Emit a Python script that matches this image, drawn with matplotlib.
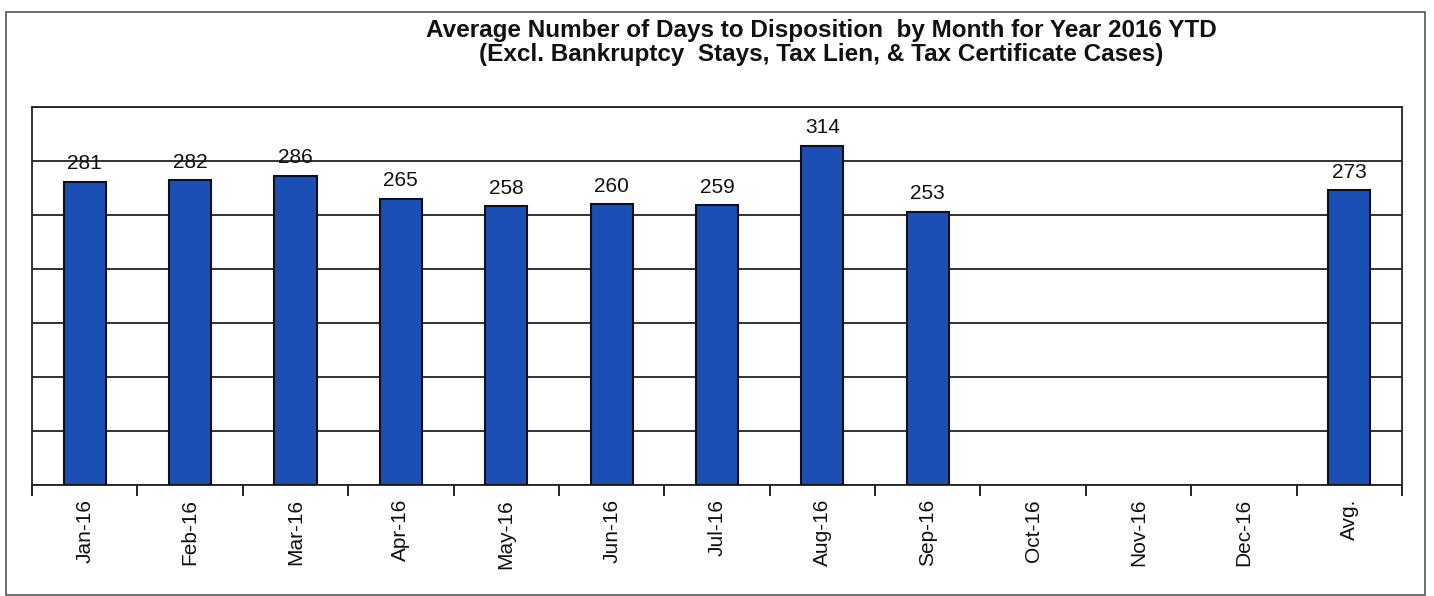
import matplotlib.pyplot as plt
import numpy as np
from matplotlib.patches import Rectangle

# data
months = ["Jan-16", "Feb-16", "Mar-16", "Apr-16", "May-16", "Jun-16", "Jul-16",
          "Aug-16", "Sep-16", "Oct-16", "Nov-16", "Dec-16", "Avg."]
days = [281, 282, 286, 265, 258, 260, 259, 314, 253, None, None, None, 273]

plt.rcParams['font.family'] = ['Liberation Sans', 'DejaVu Sans']

W, H = 1434, 596
fig = plt.figure(figsize=(W / 100, H / 100), dpi=100)

# outer border of the chart object
fig.patches.append(Rectangle((6 / W, 1 / H), 1419 / W, (H - 13) / H, transform=fig.transFigure,
                             fill=False, edgecolor="#555555", linewidth=1.2))

ax = fig.add_axes([32 / W, (H - 485) / H, 1370 / W, (485 - 107) / H])

x = np.arange(len(months))
# only months with a value get a bar
bx = [xi for xi, v in zip(x, days) if v is not None]
bv = [v for v in days if v is not None]
ax.bar(bx, bv, width=0.4, color="#1c4fb6", edgecolor="#111111", linewidth=1.5, zorder=3)

for xi, v in zip(bx, bv):
    ax.text(xi, v + 8, str(v), ha="center", va="bottom", fontsize=15, color="#111111", zorder=4)

ax.set_xlim(-0.5, len(months) - 0.5)
ax.set_ylim(0, 350)
ax.set_yticks(np.arange(0, 351, 50))
ax.set_yticklabels([])
ax.tick_params(axis="y", length=0)
ax.yaxis.grid(True, color="#222222", linewidth=1.3, zorder=0)

ax.set_xticks(x)
ax.set_xticklabels(months, rotation=90, fontsize=15, color="#111111")
ax.set_xticks(np.arange(-0.5, len(months), 1), minor=True)
ax.tick_params(axis="x", which="major", length=0, pad=10)
ax.tick_params(axis="x", which="minor", length=8, width=1.3, color="#111111")

for s in ax.spines.values():
    s.set_color("#222222")
    s.set_linewidth(1.3)

cx = 0.5 * (398 + 1245) / W
fig.text(cx, 1 - 30 / H,
         "Average Number of Days to Disposition  by Month for Year 2016 YTD",
         ha="center", va="center", fontsize=17.5, fontweight="bold", color="#111111")
fig.text(cx, 1 - 54 / H,
         "(Excl. Bankruptcy  Stays, Tax Lien, & Tax Certificate Cases)",
         ha="center", va="center", fontsize=17.5, fontweight="bold", color="#111111")

fig.savefig("out.png", dpi=100)
